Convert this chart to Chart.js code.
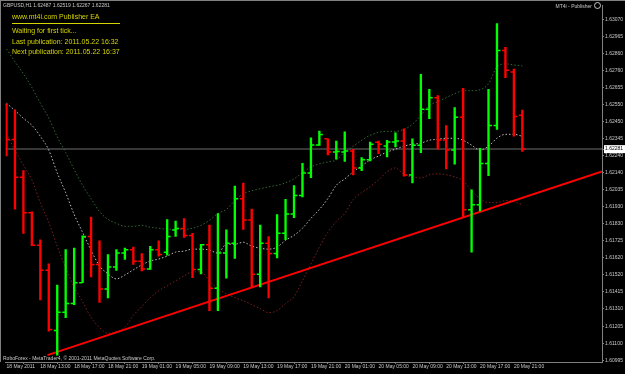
<!DOCTYPE html>
<html>
<head>
<meta charset="UTF-8">
<script src="https://cdn.jsdelivr.net/npm/chart.js@4.4.0/dist/chart.umd.min.js"></script>
<style>
    html, body { margin: 0; padding: 0; background: #000; }
    #wrap { position: relative; width: 625px; height: 374px; overflow: hidden; background: #000; }
    #wrap canvas { position: absolute; left: 0; top: 0; }
    .frame { position: absolute; background: #808080; }
    .txt { position: absolute; white-space: nowrap; line-height: 1; font-family: "Liberation Sans", Arial, sans-serif; }
    .small { font-size: 5px; color: #c8c8c8; }
    .ea { font-size: 7px; color: #d4d400; left: 12px; }
    .icon { position: absolute; left: 594px; top: 2px; width: 5px; height: 5px; border: 1px solid #c8c8c8; border-radius: 50%; }
</style>
</head>
<body>
<div id="wrap">
    <div class="frame" style="left:0;top:0;width:625px;height:1px"></div>
    <div class="frame" style="left:0;top:0;width:1px;height:362px"></div>
    <canvas id="chart" width="625" height="374"></canvas>

    <div class="txt small" style="left:3px;top:3px">GBPUSD,H1 1.62487 1.62519 1.62267 1.62281</div>
    <div class="txt ea" style="top:12.5px">www.mt4i.com Publisher EA</div>
    <div style="position:absolute;left:12px;top:23px;width:108px;height:1px;background:#d4d400"></div>
    <div class="txt ea" style="top:27px">Waiting for first tick...</div>
    <div class="txt ea" style="top:37.5px">Last publication: 2011.05.22 16:32</div>
    <div class="txt ea" style="top:48px">Next publication: 2011.05.22 16:37</div>
    <div class="txt small" style="right:33px;top:3.5px">MT4i - Publisher</div>
    <div class="icon"></div>
    <div class="txt small" style="left:3px;top:355.5px">RoboForex - MetaTrader4, &copy; 2001-2011 MetaQuotes Software Corp.</div>
</div>

<script>
// GBPUSD H1 bars, 18 May 09:00 .. 20 May 22:00
const opens = [
    1.62550, 1.62340, 1.62110, 1.61894, 1.61697, 1.61544, 1.61179, 1.61289, 1.61343, 1.61469,
    1.61750, 1.61580, 1.61430, 1.61564, 1.61649, 1.61670, 1.61600, 1.61553, 1.61670, 1.61654,
    1.61790, 1.61799, 1.61756, 1.61550, 1.61700, 1.61436, 1.61649, 1.61709, 1.61979, 1.61850,
    1.61520, 1.61709, 1.61646, 1.61769, 1.61886, 1.61999, 1.62136, 1.62306, 1.62344, 1.62264,
    1.62264, 1.62270, 1.62166, 1.62216, 1.62322, 1.62300, 1.62324, 1.62330, 1.62124, 1.62304,
    1.62524, 1.62594, 1.62336, 1.62276, 1.62474, 1.61913, 1.61943, 1.62194, 1.62424, 1.62880,
    1.62750, 1.62487
];
const highs = [
    1.62556, 1.62520, 1.62150, 1.61900, 1.61730, 1.61583, 1.61455, 1.61670, 1.61679, 1.61754,
    1.61868, 1.61724, 1.61640, 1.61670, 1.61679, 1.61685, 1.61646, 1.61690, 1.61724, 1.61853,
    1.61844, 1.61859, 1.61769, 1.61703, 1.61820, 1.61889, 1.61790, 1.62056, 1.62074, 1.61916,
    1.61820, 1.61750, 1.61883, 1.61976, 1.62060, 1.62194, 1.62350, 1.62390, 1.62344, 1.62330,
    1.62386, 1.62280, 1.62230, 1.62324, 1.62330, 1.62334, 1.62380, 1.62404, 1.62344, 1.62736,
    1.62644, 1.62606, 1.62424, 1.62534, 1.62650, 1.62033, 1.62286, 1.62644, 1.63044, 1.62900,
    1.62768, 1.62519
];
const lows = [
    1.62240, 1.61916, 1.61769, 1.61694, 1.61365, 1.61175, 1.61029, 1.61256, 1.61335, 1.61469,
    1.61504, 1.61349, 1.61376, 1.61544, 1.61610, 1.61580, 1.61540, 1.61550, 1.61630, 1.61636,
    1.61750, 1.61744, 1.61499, 1.61523, 1.61299, 1.61299, 1.61496, 1.61616, 1.61793, 1.61439,
    1.61443, 1.61376, 1.61619, 1.61730, 1.61865, 1.61990, 1.62108, 1.62304, 1.62246, 1.62220,
    1.62206, 1.62124, 1.62150, 1.62210, 1.62254, 1.62234, 1.62294, 1.62116, 1.62075, 1.62260,
    1.62466, 1.62280, 1.62160, 1.62190, 1.61870, 1.61655, 1.61906, 1.62120, 1.62400, 1.62716,
    1.62360, 1.62267
];
const closes = [
    1.62340, 1.62110, 1.61894, 1.61697, 1.61544, 1.61184, 1.61289, 1.61343, 1.61469, 1.61750,
    1.61580, 1.61430, 1.61564, 1.61649, 1.61670, 1.61600, 1.61553, 1.61670, 1.61640, 1.61750,
    1.61799, 1.61756, 1.61550, 1.61700, 1.61436, 1.61649, 1.61709, 1.61979, 1.61850, 1.61520,
    1.61709, 1.61646, 1.61769, 1.61886, 1.61999, 1.62136, 1.62306, 1.62370, 1.62264, 1.62266,
    1.62270, 1.62166, 1.62216, 1.62310, 1.62310, 1.62324, 1.62330, 1.62124, 1.62304, 1.62524,
    1.62594, 1.62336, 1.62276, 1.62474, 1.61913, 1.61943, 1.62194, 1.62424, 1.62880, 1.62760,
    1.62480, 1.62281
];

// bands (upper / middle / lower)
const bandUpper = [
    1.62890, 1.62812, 1.62740, 1.62656, 1.62560, 1.62470, 1.62356, 1.62260, 1.62158, 1.62061,
    1.61980, 1.61902, 1.61854, 1.61830, 1.61812, 1.61812, 1.61818, 1.61806, 1.61800, 1.61794,
    1.61794, 1.61794, 1.61800, 1.61818, 1.61848, 1.61890, 1.61914, 1.61968, 1.62010, 1.62028,
    1.62040, 1.62052, 1.62061, 1.62076, 1.62100, 1.62137, 1.62173, 1.62191, 1.62203, 1.62215,
    1.62263, 1.62299, 1.62335, 1.62365, 1.62383, 1.62389, 1.62389, 1.62401, 1.62432, 1.62486,
    1.62546, 1.62570, 1.62594, 1.62618, 1.62636, 1.62636, 1.62642, 1.62678, 1.62781, 1.62799,
    1.62793, 1.62787
];
const bandMid = [
    1.62560, 1.62516, 1.62468, 1.62426, 1.62359, 1.62275, 1.62137, 1.62016, 1.61884, 1.61775,
    1.61667, 1.61571, 1.61523, 1.61492, 1.61516, 1.61547, 1.61577, 1.61601, 1.61613, 1.61631,
    1.61655, 1.61661, 1.61673, 1.61673, 1.61667, 1.61649, 1.61703, 1.61703, 1.61715, 1.61691,
    1.61679, 1.61673, 1.61685, 1.61727, 1.61757, 1.61800, 1.61860, 1.61914, 1.61980, 1.62061,
    1.62100, 1.62143, 1.62179, 1.62215, 1.62239, 1.62263, 1.62281, 1.62299, 1.62311, 1.62317,
    1.62335, 1.62341, 1.62347, 1.62347, 1.62335, 1.62305, 1.62275, 1.62299, 1.62347, 1.62371,
    1.62371, 1.62359
];
const bandLower = [
    1.62377, 1.62275, 1.62185, 1.62094, 1.61956, 1.61836, 1.61691, 1.61559, 1.61444, 1.61354,
    1.61258, 1.61197, 1.61161, 1.61173, 1.61197, 1.61270, 1.61324, 1.61378, 1.61420, 1.61450,
    1.61480, 1.61510, 1.61535, 1.61535, 1.61480, 1.61432, 1.61402, 1.61378, 1.61360, 1.61336,
    1.61312, 1.61287, 1.61299, 1.61342, 1.61384, 1.61480, 1.61583, 1.61685, 1.61775, 1.61842,
    1.61890, 1.61974, 1.62016, 1.62052, 1.62094, 1.62143, 1.62167, 1.62125, 1.62112, 1.62106,
    1.62125, 1.62131, 1.62125, 1.62112, 1.62088, 1.62028, 1.61980, 1.61956, 1.61956, 1.61968,
    1.61962, 1.61944
];

// trend line (bar index, price)
const trendIdx = [4.85, 70.42];
const trendPrice = [1.61029, 1.62146];

const lastPrice = 1.62281;

const priceTicks = [
    1.60995, 1.61100, 1.61205, 1.61310, 1.61415, 1.61520, 1.61620, 1.61725, 1.61830, 1.61930,
    1.62035, 1.62140, 1.62240, 1.62345, 1.62450, 1.62550, 1.62655, 1.62760, 1.62860, 1.62965,
    1.63070
];
const timeTickIdx = [0, 4, 8, 12, 16, 20, 24, 28, 32, 36, 40, 44, 48, 52, 56, 60];
const timeTickLabels = [
    '18 May 2011', '18 May 13:00', '18 May 17:00', '18 May 21:00',
    '19 May 01:00', '19 May 05:00', '19 May 09:00', '19 May 13:00',
    '19 May 17:00', '19 May 21:00', '20 May 01:00', '20 May 05:00',
    '20 May 09:00', '20 May 13:00', '20 May 17:00', '20 May 21:00'
];

const X_MIN = -0.117, X_MAX = 70.42;
const Y_MIN = 1.60987, Y_MAX = 1.63154;
const TICK_OFF = 0.22;
const AXIS_GRAY = '#808080';
const LABEL_GRAY = '#c8c8c8';
const FONT = { family: 'Liberation Sans', size: 5 };

const barColors = closes.map((c, i) => c >= opens[i] ? '#00ff00' : '#ff0000');
const idx = closes.map((c, i) => i);

function band(values, color, dash) {
    return {
        type: 'line',
        data: idx.map(i => ({ x: i, y: values[i] })),
        borderColor: color,
        borderWidth: 1,
        borderDash: dash,
        pointRadius: 0,
        cubicInterpolationMode: 'monotone',
        order: 2
    };
}

function tickSet(values, shift) {
    return {
        type: 'line',
        data: idx.map(i => ({ x: i + shift, y: values[i] })),
        showLine: false,
        pointStyle: 'line',
        pointRadius: 1.6,
        pointBorderWidth: 1.5,
        pointBorderColor: barColors,
        order: 0
    };
}

new Chart(document.getElementById('chart'), {
    type: 'line',
    data: {
        datasets: [
            {
                type: 'bar',
                data: idx.map(i => ({ x: i, y: [lows[i], highs[i]] })),
                backgroundColor: barColors,
                barThickness: 1.7,
                grouped: false,
                order: 0
            },
            tickSet(opens, -TICK_OFF),
            tickSet(closes, TICK_OFF),
            band(bandUpper, '#336633', [1.5, 2]),
            band(bandMid, '#bdbdbd', [1.5, 2]),
            band(bandLower, '#7a2020', [1.5, 2]),
            {
                type: 'line',
                data: trendIdx.map((t, i) => ({ x: t, y: trendPrice[i] })),
                borderColor: '#ff0000',
                borderWidth: 2,
                pointRadius: 0,
                order: 1
            },
            {
                type: 'line',
                data: [{ x: X_MIN, y: lastPrice }, { x: X_MAX, y: lastPrice }],
                borderColor: '#4a4a4a',
                borderWidth: 1.5,
                pointRadius: 0,
                order: 3
            }
        ]
    },
    options: {
        responsive: false,
        animation: false,
        events: [],
        layout: { padding: { top: 1, left: 1, right: 0, bottom: 0 } },
        plugins: { legend: { display: false }, tooltip: { enabled: false } },
        scales: {
            x: {
                type: 'linear',
                min: X_MIN,
                max: X_MAX,
                offset: false,
                afterBuildTicks: s => { s.ticks = timeTickIdx.map(v => ({ value: v })); },
                afterFit: s => { s.height = 12; s.paddingLeft = 0; s.paddingRight = 0; },
                grid: { drawOnChartArea: false, drawTicks: true, tickLength: 2, color: AXIS_GRAY },
                border: { color: AXIS_GRAY, width: 1 },
                ticks: {
                    autoSkip: false,
                    maxRotation: 0,
                    minRotation: 0,
                    align: 'start',
                    padding: 0,
                    color: LABEL_GRAY,
                    font: FONT,
                    callback: (v, i) => timeTickLabels[i]
                }
            },
            y: {
                type: 'linear',
                position: 'right',
                min: Y_MIN,
                max: Y_MAX,
                afterBuildTicks: s => {
                    s.ticks = priceTicks.concat([lastPrice]).sort((a, b) => a - b).map(v => ({ value: v }));
                },
                afterFit: s => { s.width = 23; s.paddingTop = 0; s.paddingBottom = 0; },
                grid: { drawOnChartArea: false, drawTicks: true, tickLength: 2, color: AXIS_GRAY },
                border: { color: AXIS_GRAY, width: 1 },
                ticks: {
                    autoSkip: false,
                    padding: 1,
                    font: FONT,
                    color: ctx => (ctx.tick && ctx.tick.value === lastPrice) ? '#000000' : LABEL_GRAY,
                    showLabelBackdrop: ctx => !!(ctx.tick && ctx.tick.value === lastPrice),
                    backdropColor: '#ffffff',
                    backdropPadding: { top: 1, bottom: 1, left: 1, right: 2 },
                    callback: v => v.toFixed(5)
                }
            }
        }
    }
});
</script>
</body>
</html>
